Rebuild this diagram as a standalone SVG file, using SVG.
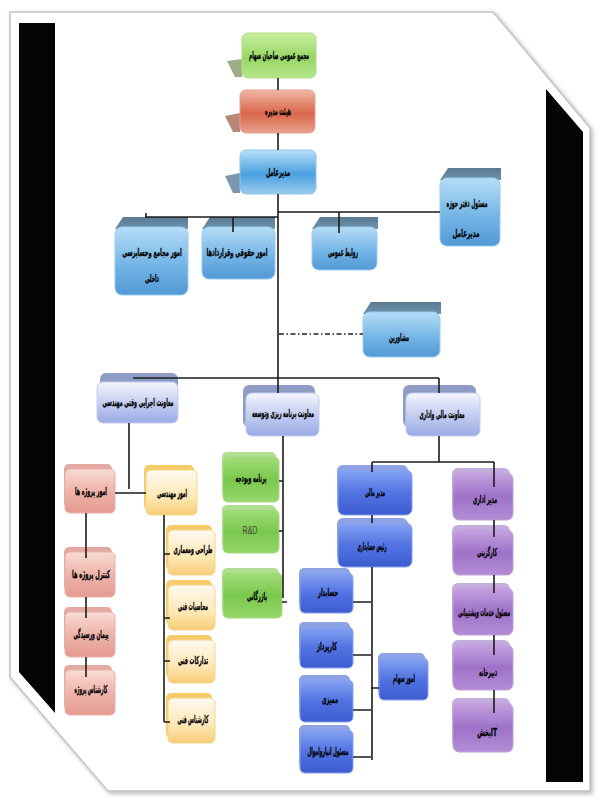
<svg xmlns="http://www.w3.org/2000/svg" width="602" height="805" viewBox="0 0 602 805">
<defs>
<filter id="sh" x="-5%" y="-5%" width="110%" height="110%"><feDropShadow dx="2" dy="2" stdDeviation="2" flood-color="#888" flood-opacity="0.6"/></filter>
<linearGradient id="gGreenTop" x1="0" y1="0" x2="0" y2="1"><stop offset="0" stop-color="#c8f0a0"/><stop offset="0.55" stop-color="#98d664"/><stop offset="1" stop-color="#b4e68a"/></linearGradient>
<linearGradient id="gRedTop" x1="0" y1="0" x2="0" y2="1"><stop offset="0" stop-color="#f0b8a4"/><stop offset="0.55" stop-color="#d9664a"/><stop offset="1" stop-color="#e9a28c"/></linearGradient>
<linearGradient id="gBlueTop" x1="0" y1="0" x2="0" y2="1"><stop offset="0" stop-color="#b8e0f8"/><stop offset="0.55" stop-color="#4a9fe0"/><stop offset="1" stop-color="#9ccdf0"/></linearGradient>
<linearGradient id="g3d" x1="0" y1="0" x2="0" y2="1"><stop offset="0" stop-color="#b6ddf7"/><stop offset="0.6" stop-color="#70b2e4"/><stop offset="1" stop-color="#5399d6"/></linearGradient>
<linearGradient id="gTop3d" x1="0" y1="0" x2="0" y2="1"><stop offset="0" stop-color="#5a7a92"/><stop offset="1" stop-color="#6e92ae"/></linearGradient>
<linearGradient id="gLav" x1="0" y1="0" x2="0" y2="1"><stop offset="0" stop-color="#f4f5fd"/><stop offset="0.6" stop-color="#bcc7ef"/><stop offset="1" stop-color="#9aabe4"/></linearGradient>
<linearGradient id="gPink" x1="0" y1="0" x2="0" y2="1"><stop offset="0" stop-color="#f8dcd4"/><stop offset="0.5" stop-color="#eeb4aa"/><stop offset="1" stop-color="#e49a90"/></linearGradient>
<linearGradient id="gOrange" x1="0" y1="0" x2="0" y2="1"><stop offset="0" stop-color="#fffaf0"/><stop offset="0.6" stop-color="#fde8b6"/><stop offset="1" stop-color="#f7cd76"/></linearGradient>
<linearGradient id="gGreen" x1="0" y1="0" x2="0" y2="1"><stop offset="0" stop-color="#a2dc78"/><stop offset="0.5" stop-color="#7ac84e"/><stop offset="1" stop-color="#96d76c"/></linearGradient>
<linearGradient id="gBlue" x1="0" y1="0" x2="0" y2="1"><stop offset="0" stop-color="#86a4f2"/><stop offset="0.5" stop-color="#5273e2"/><stop offset="1" stop-color="#3c5cd0"/></linearGradient>
<linearGradient id="gPurple" x1="0" y1="0" x2="0" y2="1"><stop offset="0" stop-color="#c6a2e0"/><stop offset="0.5" stop-color="#9e72c8"/><stop offset="1" stop-color="#b48cd6"/></linearGradient>
<style>
text{font-family:"DejaVu Sans Condensed","DejaVu Sans",sans-serif;font-weight:bold;font-size:11px;fill:#000;stroke:#000;stroke-width:0.3;text-anchor:middle}
text.rd{font-weight:normal;fill:#444;stroke:none;font-family:"Liberation Sans",sans-serif;font-size:10px}
.ln{stroke:#1c1c1c;stroke-width:1.6;fill:none}
.dd{stroke:#222;stroke-width:1.6;fill:none;stroke-dasharray:5 2.5 1.5 2.5}
.gt{fill:url(#gGreenTop);stroke:#b0dc88;stroke-width:1}
.rt{fill:url(#gRedTop);stroke:#e0a090;stroke-width:1}
.bt{fill:url(#gBlueTop);stroke:#90c4ea;stroke-width:1}
.shg{fill:#9bae88}.shr{fill:#b98676}.shb{fill:#7b97ae}
.top3{fill:url(#gTop3d)}
.f3{fill:url(#g3d);stroke:#9acbee;stroke-width:1}
.lavb{fill:#8e9cc6}.lavf{fill:url(#gLav);stroke:#c4cdf0;stroke-width:1}
.pkb{fill:#e4aaa2}.pkf{fill:url(#gPink);stroke:#e8b0a8;stroke-width:1}
.orb{fill:#f6cc68}.orf{fill:url(#gOrange);stroke:#f6d48a;stroke-width:1}
.grb{fill:#b2de94}.grf{fill:url(#gGreen);stroke:#a6da80;stroke-width:1}
.blb{fill:#8ea2e4}.blf{fill:url(#gBlue);stroke:#8aa0ec;stroke-width:1}
.pub{fill:#c4acdc}.puf{fill:url(#gPurple);stroke:#c0a0dc;stroke-width:1}
</style>
</defs>
<rect width="602" height="805" fill="#fff"/>
<polygon points="10,12 493,12 590,128 590,791 108,791 10,677" fill="#fff" stroke="#c4c4c4" stroke-width="1.5" filter="url(#sh)"/>
<polygon points="19,23 55,23 55,713 19,672" fill="#050505"/>
<polygon points="546,89 583,132 583,782 546,782" fill="#050505"/>

<g id="nodes">
<g id="n_assembly"><polygon class="shg" points="227,61 242,59 242,77 235,77"/><rect class="gt" x="242" y="33" width="74" height="45" rx="6"/><text x="279" y="59" textLength="60" lengthAdjust="spacingAndGlyphs">مجمع عمومی صاحبان سهام</text></g>
<g id="n_board"><polygon class="shr" points="225,116 240,113 240,132 233,132"/><rect class="rt" x="240" y="90" width="75" height="43" rx="6"/><text x="278" y="115" textLength="26" lengthAdjust="spacingAndGlyphs">هیئت مدیره</text></g>
<g id="n_ceo"><polygon class="shb" points="225,176 240,173 240,193 233,193"/><rect class="bt" x="240" y="150" width="76" height="44" rx="6"/><text x="278" y="176" textLength="24" lengthAdjust="spacingAndGlyphs">مدیرعامل</text></g>

<g id="n_audit"><polygon class="top3" points="123,217 188,217 188,229 115,229"/><rect class="f3" x="115" y="227" width="73" height="68" rx="7"/><text transform="translate(152 256) scale(0.52 1)">امور مجامع وحسابرسی</text><text x="152" y="282" textLength="14" lengthAdjust="spacingAndGlyphs">داخلی</text></g>
<g id="n_legal"><polygon class="top3" points="210,217 275,217 275,229 202,229"/><rect class="f3" x="202" y="227" width="73" height="52" rx="7"/><text transform="translate(237 256) scale(0.52 1)">امور حقوقی وقراردادها</text></g>
<g id="n_pr"><polygon class="top3" points="320,217 378,217 378,229 312,229"/><rect class="f3" x="312" y="227" width="65" height="43" rx="7"/><text x="343" y="256" textLength="30" lengthAdjust="spacingAndGlyphs">روابط عمومی</text></g>
<g id="n_office"><polygon class="top3" points="448,168 501,168 501,180 440,180"/><rect class="f3" x="440" y="178" width="60" height="68" rx="7"/><text x="467" y="207" textLength="41" lengthAdjust="spacingAndGlyphs">مسئول دفتر حوزه</text><text x="466" y="237" textLength="27" lengthAdjust="spacingAndGlyphs">مدیرعامل</text></g>
<g id="n_advisors"><polygon class="top3" points="371,302 441,302 441,314 363,314"/><rect class="f3" x="363" y="312" width="77" height="45" rx="7"/><text x="399" y="341" textLength="20" lengthAdjust="spacingAndGlyphs">مشاورین</text></g>

<g id="n_exec"><rect class="lavb" x="100" y="373" width="78" height="40" rx="6"/><rect class="lavf" x="97" y="382" width="81" height="41" rx="6"/><text x="138" y="406" textLength="71" lengthAdjust="spacingAndGlyphs">معاونت اجرایی وفنی مهندسی</text></g>
<g id="n_plan"><rect class="lavb" x="243" y="385" width="72" height="42" rx="6"/><rect class="lavf" x="246" y="393" width="73" height="43" rx="6"/><text x="283" y="417" textLength="62" lengthAdjust="spacingAndGlyphs">معاونت برنامه ریزی وتوسعه</text></g>
<g id="n_fin"><rect class="lavb" x="403" y="385" width="73" height="42" rx="6"/><rect class="lavf" x="406" y="393" width="74" height="43" rx="6"/><text x="442" y="418" textLength="45" lengthAdjust="spacingAndGlyphs">معاونت مالی واداری</text></g>

<g id="n_projects"><rect class="pkb" x="64" y="464" width="48" height="44" rx="5"/><rect class="pkf" x="65" y="469" width="50" height="44" rx="5"/><text x="91" y="495" textLength="32" lengthAdjust="spacingAndGlyphs">امور پروژه ها</text></g>
<g id="n_pcontrol"><rect class="pkb" x="64" y="547" width="48" height="45" rx="5"/><rect class="pkf" x="65" y="552" width="50" height="45" rx="5"/><text x="91" y="578" textLength="38" lengthAdjust="spacingAndGlyphs">کنترل پروژه ها</text></g>
<g id="n_contract"><rect class="pkb" x="64" y="607" width="48" height="45" rx="5"/><rect class="pkf" x="65" y="612" width="50" height="45" rx="5"/><text x="91" y="638" textLength="35" lengthAdjust="spacingAndGlyphs">پیمان ورسیدگی</text></g>
<g id="n_pexpert"><rect class="pkb" x="64" y="665" width="48" height="45" rx="5"/><rect class="pkf" x="65" y="670" width="50" height="45" rx="5"/><text x="91" y="693" textLength="33" lengthAdjust="spacingAndGlyphs">کارشناس پروژه</text></g>

<g id="n_eng"><rect class="orb" x="144" y="465" width="50" height="45" rx="5"/><rect class="orf" x="146" y="470" width="51" height="45" rx="5"/><text x="172" y="497" textLength="30" lengthAdjust="spacingAndGlyphs">امور مهندسی</text></g>
<g id="n_arch"><rect class="orb" x="166" y="525" width="46" height="45" rx="5"/><rect class="orf" x="168" y="530" width="47" height="45" rx="5"/><text x="193" y="553" textLength="39" lengthAdjust="spacingAndGlyphs">طراحی ومعماری</text></g>
<g id="n_calc"><rect class="orb" x="166" y="580" width="46" height="45" rx="5"/><rect class="orf" x="168" y="585" width="47" height="45" rx="5"/><text x="193" y="610" textLength="30" lengthAdjust="spacingAndGlyphs">محاسبات فنی</text></g>
<g id="n_supply"><rect class="orb" x="166" y="635" width="46" height="43" rx="5"/><rect class="orf" x="168" y="640" width="47" height="43" rx="5"/><text x="193" y="664" textLength="30" lengthAdjust="spacingAndGlyphs">تداركات فنی</text></g>
<g id="n_texpert"><rect class="orb" x="166" y="693" width="46" height="45" rx="5"/><rect class="orf" x="168" y="698" width="47" height="45" rx="5"/><text x="193" y="723" textLength="31" lengthAdjust="spacingAndGlyphs">کارشناس فنی</text></g>

<g id="n_budget"><rect class="grb" x="222" y="452" width="54" height="45" rx="5"/><rect class="grf" x="223" y="457" width="56" height="45" rx="5"/><text x="251" y="482" textLength="31" lengthAdjust="spacingAndGlyphs">برنامه وبودجه</text></g>
<g id="n_rd"><rect class="grb" x="222" y="505" width="54" height="43" rx="5"/><rect class="grf" x="223" y="510" width="56" height="43" rx="5"/><text class="rd" x="250" y="534" textLength="15" lengthAdjust="spacingAndGlyphs">R&amp;D</text></g>
<g id="n_commerce"><rect class="grb" x="222" y="568" width="57" height="45" rx="5"/><rect class="grf" x="223" y="573" width="59" height="45" rx="5"/><text x="257" y="600" textLength="20" lengthAdjust="spacingAndGlyphs">بازرگانی</text></g>

<g id="n_finmgr"><rect class="blb" x="337" y="465" width="71" height="45" rx="6"/><rect class="blf" x="338" y="470" width="74" height="45" rx="6"/><text x="375" y="496" textLength="20" lengthAdjust="spacingAndGlyphs">مدیر مالی</text></g>
<g id="n_chiefacc"><rect class="blb" x="337" y="518" width="71" height="44" rx="6"/><rect class="blf" x="338" y="523" width="74" height="44" rx="6"/><text x="372" y="550" textLength="29" lengthAdjust="spacingAndGlyphs">رئیس حسابداری</text></g>
<g id="n_acc"><rect class="blb" x="299" y="568" width="51" height="40" rx="5"/><rect class="blf" x="300" y="573" width="53" height="40" rx="5"/><text x="328" y="596" textLength="20" lengthAdjust="spacingAndGlyphs">حسابدار</text></g>
<g id="n_buyer"><rect class="blb" x="299" y="622" width="51" height="41" rx="5"/><rect class="blf" x="300" y="627" width="53" height="41" rx="5"/><text x="327" y="650" textLength="20" lengthAdjust="spacingAndGlyphs">کارپرداز</text></g>
<g id="n_audit2"><rect class="blb" x="299" y="675" width="51" height="42" rx="5"/><rect class="blf" x="300" y="680" width="53" height="42" rx="5"/><text x="330" y="703" textLength="16" lengthAdjust="spacingAndGlyphs">ممیزی</text></g>
<g id="n_store"><rect class="blb" x="299" y="725" width="51" height="43" rx="5"/><rect class="blf" x="300" y="730" width="53" height="43" rx="5"/><text x="328" y="755" textLength="41" lengthAdjust="spacingAndGlyphs">مسئول انبارواموال</text></g>
<g id="n_shares"><rect class="blb" x="378" y="653" width="47" height="42" rx="5"/><rect class="blf" x="379" y="658" width="49" height="42" rx="5"/><text x="404" y="682" textLength="22" lengthAdjust="spacingAndGlyphs">امور سهام</text></g>

<g id="n_admin"><rect class="pub" x="452" y="468" width="58" height="47" rx="6"/><rect class="puf" x="453" y="473" width="60" height="47" rx="6"/><text x="485" y="503" textLength="24" lengthAdjust="spacingAndGlyphs">مدیر اداری</text></g>
<g id="n_hr"><rect class="pub" x="452" y="525" width="58" height="45" rx="6"/><rect class="puf" x="453" y="530" width="60" height="45" rx="6"/><text x="487" y="556" textLength="20" lengthAdjust="spacingAndGlyphs">کارگزینی</text></g>
<g id="n_support"><rect class="pub" x="452" y="583" width="58" height="47" rx="6"/><rect class="puf" x="453" y="588" width="60" height="47" rx="6"/><text x="484" y="616" textLength="52" lengthAdjust="spacingAndGlyphs">مسئول خدمات وپشتیبانی</text></g>
<g id="n_secretariat"><rect class="pub" x="452" y="640" width="58" height="45" rx="6"/><rect class="puf" x="453" y="645" width="60" height="45" rx="6"/><text x="488" y="676" textLength="18" lengthAdjust="spacingAndGlyphs">دبیرخانه</text></g>
<g id="n_it"><rect class="pub" x="452" y="698" width="58" height="49" rx="6"/><rect class="puf" x="453" y="703" width="60" height="49" rx="6"/><text transform="translate(484 736) scale(0.55 1)">بخش</text><text transform="translate(494 736) scale(0.6 1)">IT</text></g>
</g>

<g id="connectors">
<path class="ln" d="M278 78V90M278 133V150M278 194V378"/>
<path class="ln" d="M145 217H278M278 212H440M146 213V217M233 217V232M339 212V233"/>
<path class="dd" d="M279 334H363"/>
<path class="ln" d="M133 378H439M278 378V393M439 378V393"/>
<path class="ln" d="M129 423V489M115 493H146"/>
<path class="ln" d="M86 513V558M86 597V618M86 657V677"/>
<path class="ln" d="M164 515V722M164 554H170M164 618H170M164 661H170M164 722H170"/>
<path class="ln" d="M283 436V598M279 481H283M279 531H283M282 602H287"/>
<path class="ln" d="M439 436V462M372 462H494M372 462V472M372 515V523M372 567V760M353 602H371M353 655H371M353 710H371M353 757H371M371 688H379"/>
<path class="ln" d="M494 462V487M494 520V537M494 575V593M494 635V655M494 690V713"/>
</g>
</svg>
